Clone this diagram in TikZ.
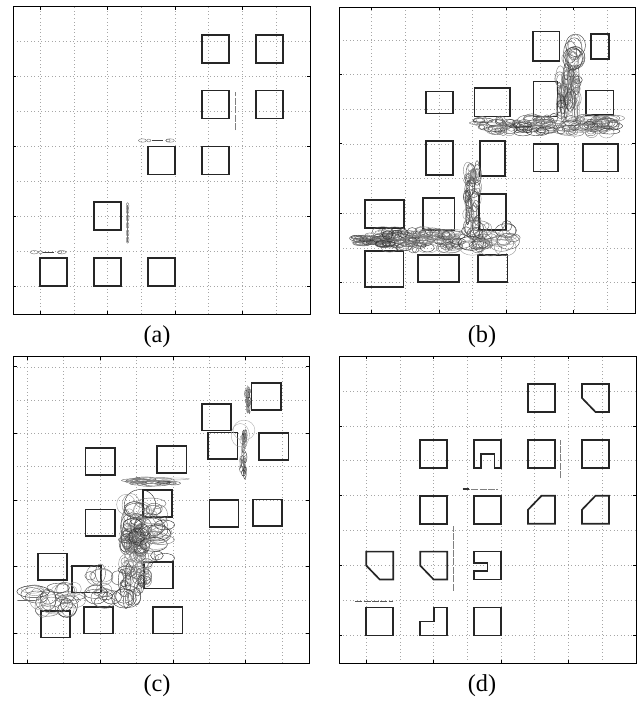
\documentclass[tikz,border=0pt]{standalone}
\usepackage{fontspec}
\setmainfont{Liberation Serif}
\usetikzlibrary{calc}

% frame, dotted grid and ticks of one plot
% #1 xmin, #2 xmax, #3 ymin, #4 ymax, #5 last horizontal grid line, #6 y ticks
\newcommand{\plotframe}[6]{%
  \foreach \g in {1,...,8}
    \draw[gridline] (\g,#3) -- (\g,#4);
  \foreach \g in {1,...,#5}
    \draw[gridline] (#1,\g) -- (#2,\g);
  \foreach \g in {1,3,5,7}{
    \draw[axesbox] (\g,#3) -- ++(0,0.09);
    \draw[axesbox] (\g,#4) -- ++(0,-0.09);
  }
  \foreach \g in {#6}{
    \draw[axesbox] (#1,\g) -- ++(0.09,0);
    \draw[axesbox] (#2,\g) -- ++(-0.09,0);
  }
}

% a swarm of random ellipses
% #1 count, #2-#3 x range, #4-#5 y range, #6 max x radius, #7 max y radius
\newcommand{\ellcloud}[7]{%
  \foreach \n in {1,...,#1}{
    \pgfmathsetmacro{\ex}{#2+rnd*(#3-#2)}
    \pgfmathsetmacro{\ey}{#4+rnd*(#5-#4)}
    \pgfmathsetmacro{\erx}{0.3*#6+0.7*rnd*#6}
    \pgfmathsetmacro{\ery}{0.3*#7+0.7*rnd*#7}
    \pgfmathtruncatemacro{\eg}{35+rnd*50}
    \draw[trace, draw=black!\eg] (\ex,\ey) ellipse ({\erx} and {\ery});
  }%
}

\begin{document}
\begin{tikzpicture}[
    x=0.025cm, y=0.025cm,
    gridline/.style={black!35, dotted, line width=0.5pt},
    axesbox/.style={black, line width=0.6pt},
    obst/.style={black!85, line width=1.2pt, line join=miter},
    trace/.style={black!55, line width=0.3pt},
    track/.style={black!50, line width=0.6pt, dash pattern=on 5pt off 1pt},
    caption/.style={font=\LARGE}
  ]
  \pgfmathsetseed{11}
  \useasboundingbox (0,0) rectangle (639,704);

  % --------------------------------------------------
  % (a)
  % --------------------------------------------------
  \begin{scope}[shift={(6.56,383.0)}, x=0.8425cm, y=0.8725cm]
    \plotframe{0.2}{9}{0.2}{9}{8}{1,3,5,7}
    \foreach \x/\y in {1.0/1.0, 2.6/1.0, 4.2/1.0, 2.6/2.6, 4.2/4.2, 5.8/4.2,
                       5.8/5.8, 7.4/5.8, 5.8/7.4, 7.4/7.4}
      \draw[obst] (\x,\y) rectangle ++(0.8,0.8);
    % short horizontal traces
    \foreach \sx/\sy in {0.70/1.97, 3.91/5.17}{
      \draw[trace] (\sx+0.12,\sy) ellipse (0.12 and 0.05);
      \draw[trace] (\sx+0.31,\sy) ellipse (0.06 and 0.04);
      \draw[black!75, line width=1pt] (\sx+0.39,\sy) -- (\sx+0.72,\sy);
      \draw[trace] (\sx+0.94,\sy) ellipse (0.13 and 0.05);
      \draw[trace] (\sx+0.88,\sy) ellipse (0.06 and 0.04);
    }
    % short vertical traces
    \foreach \ty in {2.32,2.52,2.74,2.95,3.16,3.30}
      \draw[trace] (3.59,\ty) ellipse (0.04 and 0.09);
    \draw[trace] (3.59,2.25) -- (3.59,3.32);
    \draw[track] (6.79,5.47) -- (6.79,6.57);
    \draw[axesbox] (0.2,0.2) rectangle (9,9);
  \end{scope}
  \node[caption] (capa) at (157,367) {(a)};

  % --------------------------------------------------
  % (b)
  % --------------------------------------------------
  \begin{scope}[shift={(337.95,386.69)}, x=0.8425cm, y=0.86675cm]
    \plotframe{0.04}{8.82}{0.11}{8.94}{8}{1,3,5,7}
    \foreach \xa/\ya/\xb/\yb in {5.78/7.39/6.57/8.24, 7.50/7.45/8.05/8.16,
        2.61/5.88/3.41/6.51, 4.05/5.79/5.11/6.61, 5.80/5.79/6.51/6.80,
        7.35/5.84/8.17/6.54, 2.61/4.10/3.41/5.09, 4.22/4.08/4.96/5.09,
        5.80/4.20/6.53/5.00, 7.26/4.20/8.30/5.00, 0.80/2.58/1.96/3.38,
        2.53/2.52/3.46/3.45, 4.19/2.52/4.98/3.56, 0.80/0.87/1.94/1.92,
        2.37/1.01/3.60/1.80, 4.16/1.01/5.03/1.80}
      \draw[obst] (\xa,\ya) rectangle (\xb,\yb);
    % lower swarm
    \ellcloud{50}{0.55}{1.6}{2.1}{2.35}{0.3}{0.1}
    \ellcloud{110}{1.3}{3.5}{1.98}{2.5}{0.35}{0.16}
    \ellcloud{45}{3.4}{5.2}{1.98}{2.65}{0.4}{0.25}
    \ellcloud{50}{3.8}{4.15}{2.6}{4.3}{0.14}{0.3}
    % upper swarm
    \ellcloud{40}{4.1}{5.6}{5.35}{5.7}{0.3}{0.14}
    \ellcloud{90}{5.4}{8.2}{5.3}{5.75}{0.35}{0.17}
    \ellcloud{55}{6.55}{7.15}{5.8}{7.1}{0.15}{0.35}
    \ellcloud{12}{6.8}{7.15}{7.3}{7.85}{0.42}{0.42}
    \draw[axesbox] (0.04,0.11) rectangle (8.82,8.94);
  \end{scope}
  \node[caption] (capb) at (482,367) {(b)};

  % --------------------------------------------------
  % (c)
  % --------------------------------------------------
  \begin{scope}[shift={(-9.09,37.34)}, x=0.91cm, y=0.8325cm]
    \plotframe{0.615}{8.75}{0.11}{9.31}{9}{1,3,5,7,9}
    \foreach \x/\y in {7.16/7.71, 5.79/7.09, 5.97/6.23, 7.37/6.21, 2.60/5.76,
                       4.57/5.82, 4.17/4.50, 6.00/4.20, 7.19/4.22, 2.60/3.92,
                       1.29/2.60, 2.22/2.23, 4.21/2.35, 1.37/0.88, 2.56/1.00,
                       4.46/1.00}
      \draw[obst] (\x,\y) rectangle ++(0.8,0.8);
    % upper right streaks
    \ellcloud{25}{7.0}{7.1}{7.45}{8.35}{0.05}{0.15}
    \ellcloud{30}{6.86}{7.0}{5.8}{7.0}{0.06}{0.2}
    \draw[trace, black!30] (6.95,7.1) ellipse (0.3 and 0.3);
    \draw[trace, black!30] (6.85,6.95) ellipse (0.25 and 0.35);
    % middle streak
    \ellcloud{20}{3.9}{5.1}{5.48}{5.64}{0.4}{0.08}
    % column of circles
    \ellcloud{75}{3.65}{4.3}{2.5}{4.1}{0.25}{0.3}
    \ellcloud{30}{3.7}{4.6}{3.8}{4.9}{0.45}{0.45}
    \ellcloud{15}{4.2}{4.9}{3.0}{4.6}{0.4}{0.3}
    \ellcloud{10}{3.6}{4.1}{2.0}{2.6}{0.15}{0.3}
    % lower left swarm
    \ellcloud{25}{1.0}{2.3}{1.6}{2.4}{0.45}{0.35}
    \ellcloud{20}{2.5}{3.8}{1.8}{2.9}{0.35}{0.35}
    \draw[black!60, line width=0.6pt] (0.75,2.0) -- (1.2,2.0);
    \draw[axesbox] (0.615,0.11) rectangle (8.75,9.31);
  \end{scope}
  \node[caption] (capc) at (157,18) {(c)};

  % --------------------------------------------------
  % (d)
  % --------------------------------------------------
  \begin{scope}[shift={(332.56,33.7)}, x=0.8425cm, y=0.8725cm]
    \plotframe{0.2}{9}{0.2}{9}{8}{1,3,5,7}
    \foreach \x/\y in {5.8/7.4, 2.6/5.8, 5.8/5.8, 7.4/5.8, 2.6/4.2, 4.2/4.2,
                       1.0/1.0, 4.2/1.0}
      \draw[obst] (\x,\y) rectangle ++(0.8,0.8);
    \draw[obst] (7.4,8.2) -- (8.2,8.2) -- (8.2,7.4) -- (7.8,7.4) -- (7.4,7.8) -- cycle;
    \draw[obst] (4.2,5.8) -- (4.2,6.6) -- (5.0,6.6) -- (5.0,5.8) -- (4.8,5.8)
      -- (4.8,6.2) -- (4.4,6.2) -- (4.4,5.8) -- cycle;
    \foreach \x in {5.8,7.4}
      \draw[obst] (\x+0.4,5.0) -- (\x+0.8,5.0) -- (\x+0.8,4.2) -- (\x,4.2)
        -- (\x,4.6) -- cycle;
    \foreach \x in {1.0,2.6}
      \draw[obst] (\x,3.4) -- (\x+0.8,3.4) -- (\x+0.8,2.6) -- (\x+0.4,2.6)
        -- (\x,3.0) -- cycle;
    \draw[obst] (4.2,3.4) -- (5.0,3.4) -- (5.0,2.6) -- (4.2,2.6) -- (4.2,2.85)
      -- (4.6,2.85) -- (4.6,3.08) -- (4.2,3.08) -- cycle;
    \draw[obst] (3.0,1.8) -- (3.4,1.8) -- (3.4,1.0) -- (2.6,1.0) -- (2.6,1.4)
      -- (3.0,1.4) -- cycle;
    % tracks
    \draw[track] (6.77,5.50) -- (6.77,6.60);
    \draw[track] (3.86,5.19) -- (4.92,5.19);
    \draw[black!80, line width=1pt] (3.86,5.19) -- (4.06,5.19);
    \draw[track] (3.60,2.28) -- (3.60,4.13);
    \draw[track, black!65] (0.67,1.97) -- (1.78,1.97);
    \draw[axesbox] (0.2,0.2) rectangle (9,9);
  \end{scope}
  \node[caption] (capd) at (482,18) {(d)};
\end{tikzpicture}
\end{document}
